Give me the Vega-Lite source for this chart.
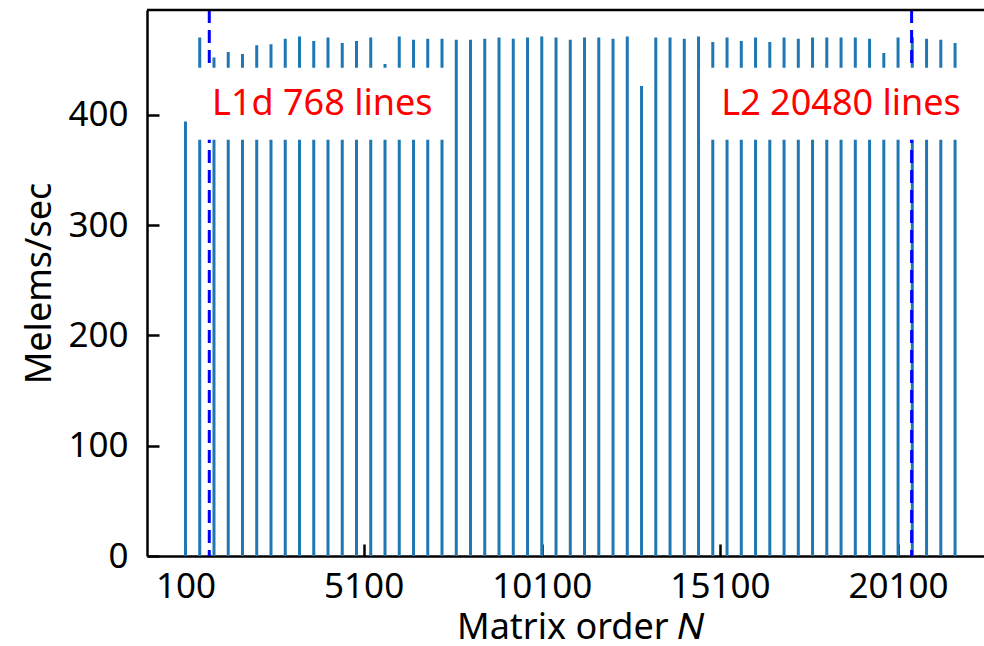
{
  "$schema": "https://vega.github.io/schema/vega-lite/v6.json",
  "width": 837,
  "height": 546,
  "autosize": {"type": "none"},
  "padding": {"left": 147, "top": 10, "right": 0, "bottom": 90},
  "background": "white",
  "config": {
    "view": {"stroke": null},
    "font": "Noto Sans",
    "axis": {
      "grid": false,
      "tickSize": -12,
      "tickWidth": 2.5,
      "tickColor": "black",
      "domainColor": "black",
      "domainWidth": 2.5,
      "labelFontSize": 35,
      "labelColor": "black",
      "labelFont": "Noto Sans",
      "titleFont": "Noto Sans",
      "titleFontSize": 36,
      "titleFontWeight": "normal",
      "titleColor": "black",
      "labelFlush": false,
      "labelOverlap": false
    }
  },
  "datasets": {
    "bars": [
      {"N": 100, "v": 394}, {"N": 500, "v": 470}, {"N": 900, "v": 452}, {"N": 1300, "v": 457},
      {"N": 1700, "v": 455}, {"N": 2100, "v": 463}, {"N": 2500, "v": 464}, {"N": 2900, "v": 469},
      {"N": 3300, "v": 471}, {"N": 3700, "v": 467}, {"N": 4100, "v": 470}, {"N": 4500, "v": 465},
      {"N": 4900, "v": 467}, {"N": 5300, "v": 470}, {"N": 5700, "v": 446}, {"N": 6100, "v": 471},
      {"N": 6500, "v": 468}, {"N": 6900, "v": 469}, {"N": 7300, "v": 469}, {"N": 7700, "v": 468},
      {"N": 8100, "v": 468}, {"N": 8500, "v": 469}, {"N": 8900, "v": 470}, {"N": 9300, "v": 469},
      {"N": 9700, "v": 470}, {"N": 10100, "v": 471}, {"N": 10500, "v": 470}, {"N": 10900, "v": 468},
      {"N": 11300, "v": 470}, {"N": 11700, "v": 470}, {"N": 12100, "v": 469}, {"N": 12500, "v": 471},
      {"N": 12900, "v": 426}, {"N": 13300, "v": 470}, {"N": 13700, "v": 470}, {"N": 14100, "v": 469},
      {"N": 14500, "v": 471}, {"N": 14900, "v": 466}, {"N": 15300, "v": 470}, {"N": 15700, "v": 467},
      {"N": 16100, "v": 470}, {"N": 16500, "v": 466}, {"N": 16900, "v": 470}, {"N": 17300, "v": 469},
      {"N": 17700, "v": 470}, {"N": 18100, "v": 470}, {"N": 18500, "v": 470}, {"N": 18900, "v": 470},
      {"N": 19300, "v": 469}, {"N": 19700, "v": 456}, {"N": 20100, "v": 470}, {"N": 20500, "v": 470},
      {"N": 20900, "v": 469}, {"N": 21300, "v": 468}, {"N": 21700, "v": 465}
    ],
    "cachelines": [{"N": 768}, {"N": 20480}],
    "boxes": [
      {"N": 310, "N2": 7520, "v": 377.3, "v2": 442.6},
      {"N": 14540, "N2": 22300, "v": 377.3, "v2": 442.6}
    ],
    "notes": [
      {"N": 3940, "v": 400, "label": "L1d 768 lines"},
      {"N": 18500, "v": 400, "label": "L2 20480 lines"}
    ],
    "frame": [{"v": 495}]
  },
  "layer": [
    {
      "data": {"name": "bars"},
      "mark": {"type": "rule", "color": "#1f77b4", "strokeWidth": 3},
      "encoding": {
        "x": {
          "field": "N", "type": "quantitative",
          "scale": {"domain": [-980, 22512], "nice": false, "zero": false},
          "axis": {
            "title": "Matrix order 𝑁",
            "values": [100, 5100, 10100, 15100, 20100],
            "format": "d",
            "labelPadding": 25,
            "titleX": 433,
            "titleY": 82,
            "titleBaseline": "alphabetic"
          }
        },
        "y": {
          "field": "v", "type": "quantitative",
          "scale": {"domain": [0, 495], "nice": false},
          "axis": {
            "title": "Melems/sec",
            "values": [0, 100, 200, 300, 400],
            "labelPadding": 31,
            "titleAngle": 270,
            "titleX": -97,
            "titleY": 273,
            "titleAlign": "center",
            "titleBaseline": "alphabetic"
          }
        },
        "y2": {"datum": 0}
      }
    },
    {
      "data": {"name": "cachelines"},
      "mark": {"type": "rule", "color": "#0000ff", "strokeWidth": 3, "strokeDash": [13, 7]},
      "encoding": {
        "x": {"field": "N", "type": "quantitative"}
      }
    },
    {
      "data": {"name": "boxes"},
      "mark": {"type": "rect", "color": "white", "opacity": 1},
      "encoding": {
        "x": {"field": "N", "type": "quantitative"},
        "x2": {"field": "N2"},
        "y": {"field": "v", "type": "quantitative"},
        "y2": {"field": "v2"}
      }
    },
    {
      "data": {"name": "notes"},
      "mark": {"type": "text", "color": "#ff0000", "fontSize": 36, "font": "Noto Sans", "align": "center", "baseline": "alphabetic"},
      "encoding": {
        "x": {"field": "N", "type": "quantitative"},
        "y": {"field": "v", "type": "quantitative"},
        "text": {"field": "label"}
      }
    },
    {
      "data": {"name": "frame"},
      "mark": {"type": "rule", "color": "black", "strokeWidth": 2.5},
      "encoding": {
        "y": {"field": "v", "type": "quantitative"}
      }
    }
  ]
}
